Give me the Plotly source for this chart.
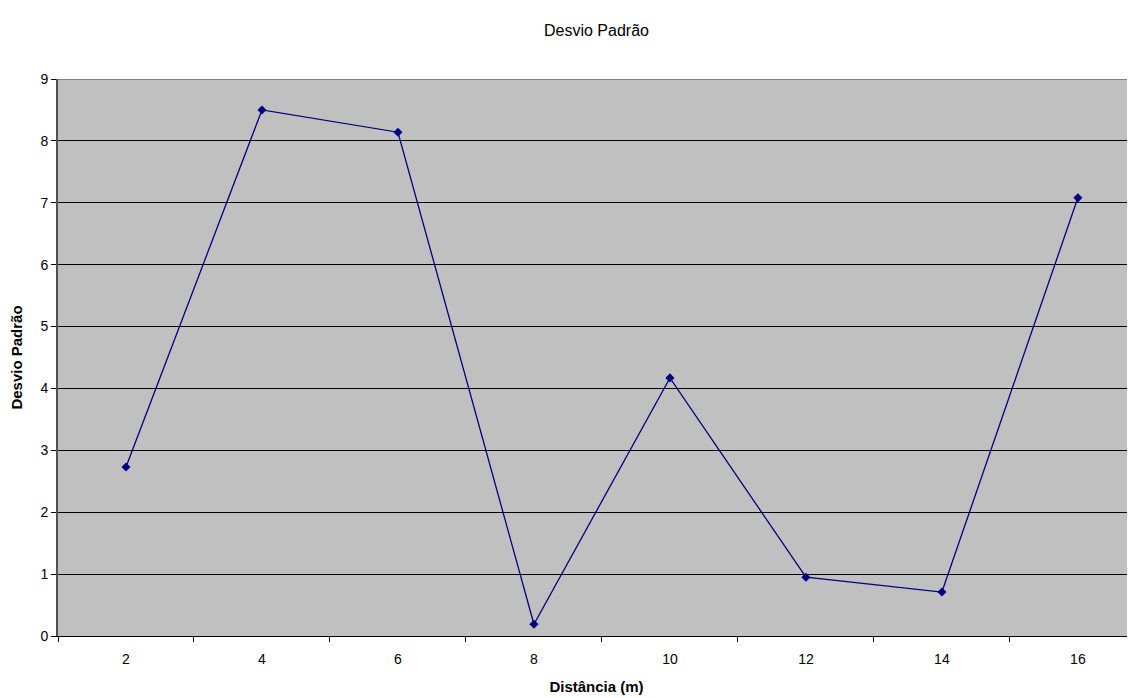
import plotly.graph_objects as go

distancias = ["2", "4", "6", "8", "10", "12", "14", "16"]
desvio = [2.73, 8.50, 8.14, 0.19, 4.17, 0.95, 0.71, 7.08]

fig = go.Figure()
fig.add_trace(go.Scatter(
    x=distancias, y=desvio, mode="lines+markers",
    line=dict(color="#000080", width=1.3),
    marker=dict(symbol="diamond", size=7, color="#000080"),
    showlegend=False,
))

fig.update_layout(
    width=1127, height=690,
    margin=dict(l=50, r=0, t=71, b=62),
    paper_bgcolor="white", plot_bgcolor="#C0C0C0",
    font=dict(family="Liberation Sans, Arial, sans-serif", size=14, color="black"),
    title=dict(text="Desvio Padrão", x=0.5, xref="paper", y=1 - 22 / 690, yanchor="middle",
               font=dict(size=16, color="black")),
    xaxis=dict(
        type="category", range=[-0.5, 7.42], tickson="boundaries",
        ticks="outside", ticklen=5, tickcolor="black", tickwidth=1,
        ticklabelstandoff=10,
        showline=True, linecolor="black", linewidth=1,
        showgrid=False, zeroline=False,
        title=dict(text="<b>Distância (m)</b>", font=dict(size=15), standoff=15),
    ),
    yaxis=dict(
        range=[0, 9], dtick=1, tick0=0,
        ticks="outside", ticklen=5, tickcolor="black", tickwidth=1,
        showline=True, linecolor="#505050", linewidth=2,
        showgrid=True, gridcolor="black", gridwidth=1,
        zeroline=False,
        title=dict(text="<b>Desvio Padrão</b>", font=dict(size=15), standoff=14),
    ),
    shapes=[dict(type="line", xref="paper", yref="y", x0=0, x1=1, y0=9, y1=9,
                 line=dict(color="#808080", width=2), layer="above")],
)

fig.write_html("out.html")
